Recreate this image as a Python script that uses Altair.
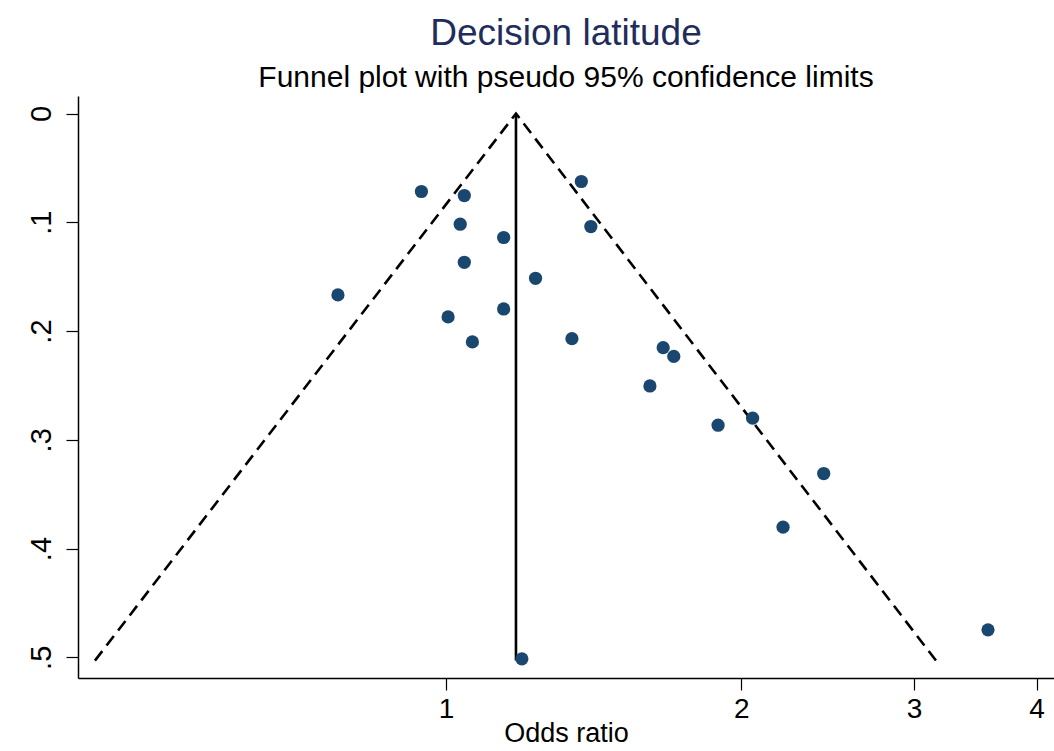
import altair as alt
import pandas as pd

# Study estimates
odds_ratio = [0.944, 1.044, 1.374, 1.034, 1.145, 1.405, 1.044, 1.234, 0.776, 1.145, 1.005,
              1.064, 1.344, 1.665, 1.707, 1.614, 2.054, 1.894, 2.427, 2.206, 3.569, 1.195]
std_err = [0.0717, 0.0754, 0.0625, 0.1018, 0.114, 0.1039, 0.1368, 0.1515, 0.1668, 0.1797, 0.187,
           0.210, 0.207, 0.2153, 0.2233, 0.2505, 0.2801, 0.2866, 0.331, 0.3803, 0.4747, 0.5014]

# Funnel (pseudo 95% limits) and pooled estimate line
funnel_or = [0.4387, 1.1786, 3.159]
funnel_se = [0.503, 0.0, 0.503]
pooled_or = [1.1786, 1.1786]
pooled_se = [0.0, 0.503]

x_ticks = [1, 2, 3, 4]
y_ticks = [0, 0.1, 0.2, 0.3, 0.4, 0.5]

pts = pd.DataFrame({"or": odds_ratio, "se": std_err})
fun = pd.DataFrame({"or": funnel_or, "se": funnel_se, "idx": list(range(len(funnel_or)))})
pool = pd.DataFrame({"or": pooled_or, "se": pooled_se, "idx": list(range(len(pooled_or)))})

FONT = "Liberation Sans"

x_enc = alt.X("or:Q",
              scale=alt.Scale(type="log", domain=[0.4216, 4.167], nice=False, zero=False),
              axis=alt.Axis(values=x_ticks, title="Odds ratio", grid=False, format="d",
                            domainColor="black", domainWidth=1.5, tickColor="black", tickWidth=1.2,
                            tickSize=12, labelFontSize=28, labelColor="black", labelFont=FONT,
                            labelPadding=5, titleFontSize=27, titleFont=FONT, titleColor="black",
                            titleFontWeight="normal", titlePadding=-3))
y_enc = alt.Y("se:Q",
              scale=alt.Scale(domain=[-0.0161, 0.519], reverse=True, nice=False, zero=False),
              axis=alt.Axis(values=y_ticks, title=None, grid=False,
                            labelExpr="datum.value == 0 ? '0' : replace(format(datum.value, '.1f'), '0.', '.')",
                            labelAngle=270, labelAlign="center", labelBaseline="bottom",
                            domainColor="black", domainWidth=1.5, tickColor="black", tickWidth=1.2,
                            tickSize=12, labelFontSize=29, labelColor="black", labelFont=FONT,
                            labelPadding=10))

funnel = alt.Chart(fun).mark_line(color="black", strokeWidth=2.6, strokeDash=[12, 7]).encode(
    x=x_enc, y=y_enc, order="idx:Q")
pooled = alt.Chart(pool).mark_line(color="black", strokeWidth=2.6).encode(
    x=x_enc, y=y_enc, order="idx:Q")
points = alt.Chart(pts).mark_circle(size=175, color="#1a476f", opacity=1).encode(x=x_enc, y=y_enc)

chart = alt.layer(funnel, pooled, points).properties(
    width=976, height=582,
    title=alt.TitleParams(text="Decision latitude", subtitle="Funnel plot with pseudo 95% confidence limits",
                          anchor="middle", font=FONT, fontSize=37, fontWeight="normal", color="#1f2d5c",
                          subtitleFont=FONT, subtitleFontSize=30, subtitleColor="black",
                          subtitlePadding=10, offset=2),
    padding={"left": 78, "top": 96, "right": 0, "bottom": 73},
    autosize=alt.AutoSizeParams(type="none"),
).configure_view(strokeWidth=0)

chart.save("out.html", embed_options={"renderer": "svg", "actions": False})
